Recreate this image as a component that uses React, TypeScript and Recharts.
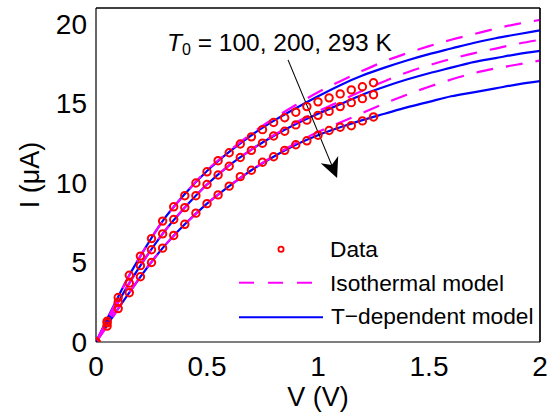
import React from "react";
import { LineChart, Line, XAxis, YAxis, ReferenceLine } from "recharts";

const FONT = '"Liberation Sans", Arial, Helvetica, sans-serif';

// measured points (V, µA) for T0 = 100, 200, 293 K
const vData = [0, 0.05, 0.1, 0.15, 0.2, 0.25, 0.3, 0.35, 0.4, 0.45, 0.5, 0.55, 0.6, 0.65, 0.7, 0.75, 0.8, 0.85, 0.9, 0.95, 1.0, 1.05, 1.1, 1.15, 1.2, 1.25];
const iData100 = [0, 1.3, 2.8, 4.2, 5.4, 6.5, 7.6, 8.5, 9.2, 10.0, 10.7, 11.4, 11.9, 12.45, 12.9, 13.35, 13.8, 14.1, 14.45, 14.8, 15.1, 15.35, 15.6, 15.85, 16.05, 16.3];
const iData200 = [0, 1.2, 2.5, 3.7, 4.8, 5.8, 6.8, 7.7, 8.45, 9.2, 9.9, 10.5, 11.05, 11.6, 12.05, 12.5, 12.95, 13.25, 13.65, 13.95, 14.25, 14.5, 14.8, 15.05, 15.3, 15.55];
const iData293 = [0, 1.0, 2.1, 3.1, 4.1, 5.0, 5.9, 6.7, 7.4, 8.1, 8.7, 9.25, 9.8, 10.4, 10.8, 11.3, 11.65, 12.05, 12.4, 12.65, 13.0, 13.3, 13.5, 13.6, 13.9, 14.15];

// model curves
const vModel = [0, 0.05, 0.1, 0.15, 0.2, 0.3, 0.4, 0.5, 0.6, 0.7, 0.8, 0.9, 1.0, 1.1, 1.2, 1.3, 1.4, 1.5, 1.6, 1.7, 1.8, 1.9, 2.0];
const iIso100 = [0, 1.4, 2.8, 4.2, 5.4, 7.6, 9.3, 10.8, 12.0, 13.1, 14.05, 14.9, 15.7, 16.4, 17.05, 17.65, 18.15, 18.6, 19.0, 19.35, 19.7, 20.0, 20.25];
const iIso200 = [0, 1.2, 2.5, 3.7, 4.8, 6.8, 8.45, 9.9, 11.1, 12.1, 13.0, 13.8, 14.5, 15.15, 15.8, 16.4, 16.95, 17.4, 17.8, 18.15, 18.45, 18.75, 19.0];
const iIso293 = [0, 1.0, 2.1, 3.1, 4.1, 5.9, 7.4, 8.7, 9.8, 10.8, 11.7, 12.5, 13.2, 13.8, 14.4, 15.0, 15.55, 16.05, 16.5, 16.9, 17.2, 17.45, 17.7];
const iTdep100 = [0, 1.45, 2.85, 4.2, 5.4, 7.6, 9.3, 10.75, 11.95, 13.0, 13.9, 14.7, 15.45, 16.15, 16.75, 17.25, 17.7, 18.1, 18.45, 18.8, 19.1, 19.35, 19.6];
const iTdep200 = [0, 1.25, 2.5, 3.7, 4.8, 6.8, 8.45, 9.9, 11.1, 12.1, 12.95, 13.7, 14.35, 14.95, 15.55, 16.05, 16.5, 16.9, 17.25, 17.6, 17.85, 18.1, 18.3];
const iTdep293 = [0, 1.05, 2.1, 3.1, 4.1, 5.9, 7.4, 8.7, 9.8, 10.8, 11.65, 12.4, 13.0, 13.5, 13.95, 14.35, 14.75, 15.1, 15.45, 15.7, 15.95, 16.2, 16.4];

const xTicks = [0, 0.5, 1, 1.5, 2];
const yTicks = [0, 5, 10, 15, 20];

// annotation arrow, data coords
const arrowFrom = { x: 0.865, y: 17.74 };
const arrowTo = { x: 1.086, y: 10.31 };

const rows = (xs: number[], ys: number[]) => xs.map((v, k) => ({ v, i: ys[k] }));

const dataSets = [iData100, iData200, iData293].map((s) => rows(vData, s));
const isoSets = [iIso100, iIso200, iIso293].map((s) => rows(vModel, s));
const tdepSets = [iTdep100, iTdep200, iTdep293].map((s) => rows(vModel, s));

function XLabel(props: any) {
  const vb = props.viewBox || {};
  return (
    <text x={vb.x + vb.width / 2} y={vb.y + 63.5} textAnchor="middle" fontSize={27} fontFamily={FONT} fill="#000">
      V (V)
    </text>
  );
}

function YLabel(props: any) {
  const vb = props.viewBox || {};
  const x = 38.5;
  const y = vb.y + vb.height / 2;
  return (
    <text x={x} y={y} transform={`rotate(-90 ${x} ${y})`} textAnchor="middle" fontSize={27} fontFamily={FONT} fill="#000">
      I (μA)
    </text>
  );
}

function ArrowShape(p: any) {
  const { x1, y1, x2, y2 } = p;
  const dx = x2 - x1;
  const dy = y2 - y1;
  const len = Math.hypot(dx, dy);
  const ux = dx / len;
  const uy = dy / len;
  const nx = -uy;
  const ny = ux;
  const back = 20;
  const wing = 9.5;
  const notch = 14;
  const pts = [
    [x2, y2],
    [x2 - ux * back + nx * wing, y2 - uy * back + ny * wing],
    [x2 - ux * notch, y2 - uy * notch],
    [x2 - ux * back - nx * wing, y2 - uy * back - ny * wing],
  ]
    .map((q) => q.join(","))
    .join(" ");
  return (
    <g>
      <line x1={x1} y1={y1} x2={x2 - ux * notch} y2={y2 - uy * notch} stroke="#000" strokeWidth={1.1} />
      <polygon points={pts} fill="#000" />
      <text x={x1 - 121} y={y1 - 8.5} fontSize={24.5} fontFamily={FONT} fill="#000">
        <tspan fontStyle="italic">T</tspan>
        <tspan fontSize={16} dy={4}>0</tspan>
        <tspan dy={-4}> = 100, 200, 293 K</tspan>
      </text>
    </g>
  );
}

function LegendOverlay() {
  const text = { fontSize: 22.7, fontFamily: FONT, fill: "#000" };
  return (
    <svg width={554} height={413} style={{ position: "absolute", left: 0, top: 0, pointerEvents: "none" }}>
      <circle cx={281} cy={249.3} r={2.6} fill="none" stroke="#ff0000" strokeWidth={1.8} />
      <text x={330} y={256.7} {...text}>Data</text>
      <line x1={239} y1={282.7} x2={323} y2={282.7} stroke="#ff00ff" strokeWidth={2} strokeDasharray="15 14" />
      <text x={330} y={291} {...text}>Isothermal model</text>
      <line x1={239} y1={317.3} x2={323} y2={317.3} stroke="#0000ff" strokeWidth={2} />
      <text x={331} y={323.5} {...text}>T−dependent model</text>
    </svg>
  );
}

export default function App() {
  const tickStyle = { fontSize: 28, fill: "#000", fontFamily: FONT };
  return (
    <div style={{ position: "absolute", left: 0, top: 0, width: 554, height: 413, background: "#fff" }}>
      <LineChart width={554} height={413} margin={{ top: 8, right: 14, bottom: 0, left: 0 }}>
        <XAxis
          xAxisId="x"
          type="number"
          dataKey="v"
          domain={[0, 2]}
          ticks={xTicks}
          allowDataOverflow
          height={71}
          tickLine={false}
          tickSize={0}
          tickMargin={14}
          axisLine={{ stroke: "#000", strokeWidth: 1.2 }}
          tick={tickStyle}
          label={<XLabel />}
        />
        <XAxis xAxisId="xb" type="number" domain={[0, 2]} ticks={xTicks} allowDataOverflow mirror tick={false} tickSize={5} axisLine={false} tickLine={{ stroke: "#000" }} />
        <XAxis xAxisId="xt" orientation="top" type="number" domain={[0, 2]} ticks={xTicks} allowDataOverflow mirror tick={false} tickSize={5} axisLine={{ stroke: "#000", strokeWidth: 1.2 }} tickLine={{ stroke: "#000" }} />
        <YAxis
          yAxisId="y"
          type="number"
          domain={[0, 21]}
          ticks={yTicks}
          allowDataOverflow
          width={96}
          tickLine={false}
          tickSize={0}
          tickMargin={9}
          axisLine={{ stroke: "#000", strokeWidth: 1.2 }}
          tick={tickStyle}
          label={<YLabel />}
        />
        <YAxis yAxisId="yl" type="number" domain={[0, 21]} ticks={yTicks} allowDataOverflow mirror tick={false} tickSize={5} axisLine={false} tickLine={{ stroke: "#000" }} />
        <YAxis yAxisId="yr" orientation="right" type="number" domain={[0, 21]} ticks={yTicks} allowDataOverflow mirror tick={false} tickSize={5} axisLine={{ stroke: "#000", strokeWidth: 1.2 }} tickLine={{ stroke: "#000" }} />

        {/* box frame */}
        <ReferenceLine xAxisId="x" yAxisId="y" y={21} stroke="#000" strokeWidth={1.2} />
        <ReferenceLine xAxisId="x" yAxisId="y" x={2} stroke="#000" strokeWidth={1.2} />

        {tdepSets.map((d, k) => (
          <Line key={`t${k}`} xAxisId="x" yAxisId="y" data={d} dataKey="i" type="monotone" stroke="#0000ff" strokeWidth={2.2} dot={false} isAnimationActive={false} />
        ))}
        {isoSets.map((d, k) => (
          <Line key={`i${k}`} xAxisId="x" yAxisId="y" data={d} dataKey="i" type="monotone" stroke="#ff00ff" strokeWidth={2.2} strokeDasharray="17 13" dot={false} isAnimationActive={false} />
        ))}
        {dataSets.map((d, k) => (
          <Line
            key={`d${k}`}
            xAxisId="x"
            yAxisId="y"
            data={d}
            dataKey="i"
            stroke="none"
            dot={{ r: 3.7, stroke: "#ff0000", strokeWidth: 2, fill: "none" }}
            isAnimationActive={false}
          />
        ))}

        <ReferenceLine xAxisId="x" yAxisId="y" segment={[arrowFrom, arrowTo]} shape={ArrowShape} />
      </LineChart>
      <LegendOverlay />
    </div>
  );
}
